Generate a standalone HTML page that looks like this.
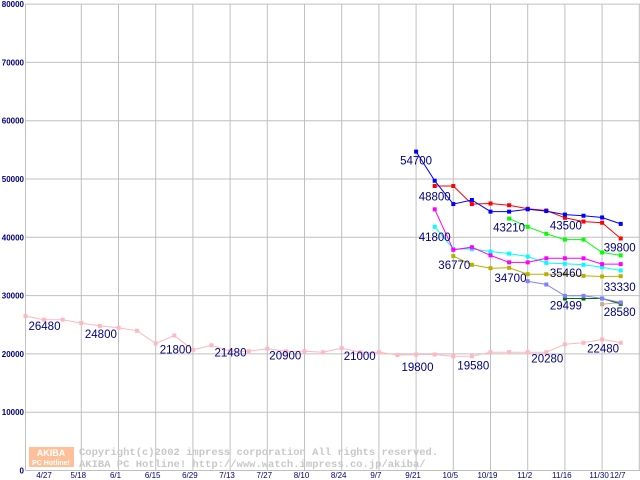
<!DOCTYPE html>
<html><head><meta charset="utf-8"><style>
html,body{margin:0;padding:0;background:#fff;}
svg{display:block;font-family:"Liberation Sans",sans-serif;}
</style></head><body>
<svg id="chart" width="640" height="480" xmlns="http://www.w3.org/2000/svg">
<g id="grid"></g>
<g id="axes"></g>
<g id="watermark">
<rect x="29" y="447" width="45" height="20" fill="#ffb080" opacity="0.8"/>
<text x="51" y="456" font-size="9" font-weight="bold" fill="#fff" text-anchor="middle">AKIBA</text>
<text x="51" y="465" font-size="7" font-weight="bold" fill="#fff" text-anchor="middle">PC Hotline!</text>
<text x="79" y="455" font-family="Liberation Mono, monospace" font-size="10.5" font-weight="bold" fill="#c8c8c8">Copyright(c)2002 impress corporation All rights reserved.</text>
<text x="79" y="467" font-family="Liberation Mono, monospace" font-size="10.5" font-weight="bold" fill="#c8c8c8">AKIBA PC Hotline!  http://www.watch.impress.co.jp/akiba/</text>
</g>
<g id="series"></g>
<g id="labels"></g>
</svg>
<script>
const xTickLabels = ["4/27","5/18","6/1","6/15","6/29","7/13","7/27","8/10","8/24","9/7","9/21","10/5","10/19","11/2","11/16","11/30","12/7"];
const xTickWeeks = [0,3,5,7,9,11,13,15,17,19,21,23,25,27,29,31,32];
const yTicks = [0,10000,20000,30000,40000,50000,60000,70000,80000];
const gridWeeks = [0,3,5,7,9,11,13,15,17,19,21,23,25,27,29,31,33];
const pinkVals = [26480,25860,25860,25290,24800,24480,23970,21800,23160,20690,21480,20460,20460,20900,20460,20460,20290,21000,20290,20290,19800,19900,19900,19580,19580,20300,20300,20300,20280,21640,21910,22480,21910];
const blueVals = [54700,49700,45700,46400,44400,44400,44800,44500,43900,43700,43400,42300];
const redVals = [48800,48800,45700,45800,45500,44900,44600,43350,42700,42500,39800];
const greenVals = [43210,41800,40600,39600,39600,37400,36900];
const magentaVals = [44800,37850,38300,36900,35700,35700,36400,36400,36400,35400,35400];
const cyanVals = [41800,38000,38000,37560,37200,36700,35600,35460,35280,34870,34300];
const oliveVals = [36770,35280,34700,34760,33670,33670,33670,33390,33280,33330];
const periwinkleVals = [32470,31900,29960,29960,29500,28820];
const darkGreenVals = [29499,29499,29499,28580];
const tanVals = [28520,28820];

const X = w => 25.5 + w * 18.6;
const Y = v => 470.5 - v * 0.00583;
const NS = "http://www.w3.org/2000/svg";
function mk(tag, parent, attrs){const e=document.createElementNS(NS,tag);for(const k in attrs)e.setAttribute(k,attrs[k]);parent.appendChild(e);return e;}

const grid=document.getElementById('grid'), axes=document.getElementById('axes');
gridWeeks.forEach(w=>{const l=mk('line',grid,{x1:X(w),x2:X(w),y1:Y(80000),y2:Y(0),stroke:'#c0c0c0','stroke-width':1});

});
yTicks.forEach(v=>{const l=mk('line',grid,{x1:25.5,x2:640,y1:Y(v),y2:Y(v),stroke:'#c0c0c0','stroke-width':1});


const t=mk('text',axes,{x:24,y:Y(v)+3,'font-size':8,'font-weight':'bold',fill:'#000080','text-anchor':'end'});t.textContent=v;

});
xTickLabels.forEach((s,i)=>{const xx = i==0 ? 44 : X(xTickWeeks[i])-3;
const t=mk('text',axes,{x:xx,y:478,'font-size':8,fill:'#000080','text-anchor':'middle'});t.textContent=s;

});

const ser=document.getElementById('series');
function draw(name,vals,start,color){
 const g=mk('g',ser,{});
 
 
 const pts=vals.map((v,i)=>X(start+i).toFixed(1)+','+Y(v).toFixed(1)).join(' ');
 mk('polyline',g,{points:pts,fill:'none',stroke:color,'stroke-width':1});
 vals.forEach((v,i)=>{const r=mk('rect',g,{x:X(start+i)-2,y:Y(v)-2,width:4,height:4,fill:color});
 
 });
}
draw('pink-series',pinkVals,0,'#ffb8c0');
draw('tan-series',tanVals,31,'#c8a890');
draw('darkgreen-series',darkGreenVals,29,'#007000');
draw('periwinkle-series',periwinkleVals,27,'#8080ff');
draw('olive-series',oliveVals,23,'#b8b000');
draw('cyan-series',cyanVals,22,'#00ffff');
draw('magenta-series',magentaVals,22,'#ff00ff');
draw('green-series',greenVals,26,'#00ff00');
draw('red-series',redVals,22,'#ff0000');
draw('blue-series',blueVals,21,'#0000ff');

const lab=document.getElementById('labels');
const labelDefs=[["26480",0,pinkVals[0],3,14],["24800",4,pinkVals[4],-15,12],["21800",7,pinkVals[7],4,10],["21480",10,pinkVals[10],3,11],["20900",13,pinkVals[13],2,11],["21000",17,pinkVals[17],2,12],["19800",20,pinkVals[20],4,16],["19580",23,pinkVals[23],4,13],["20280",28,pinkVals[28],-15,10],["22480",31,pinkVals[31],-15,13],
["54700",21,blueVals[0],-16,13],["48800",22,blueVals[1],-16,20],["41800",22,cyanVals[0],-16,14],["36770",23,oliveVals[0],-15,13],["34700",25,oliveVals[2],4,14],["43210",26,greenVals[0],-16,13],["43500",29,blueVals[8],-15,15],["35460",29,cyanVals[7],-15,13],["39800",32,redVals[10],-17,13],["33330",32,oliveVals[9],-17,15],["29499",29,darkGreenVals[0],-15,11],["28580",32,darkGreenVals[3],-17,12]];
labelDefs.forEach(d=>{const t=mk('text',lab,{x:X(d[1])+d[3],y:Y(d[2])+d[4],'font-size':11.5,fill:'#000080'});t.textContent=d[0];

});
</script>
</body></html>
